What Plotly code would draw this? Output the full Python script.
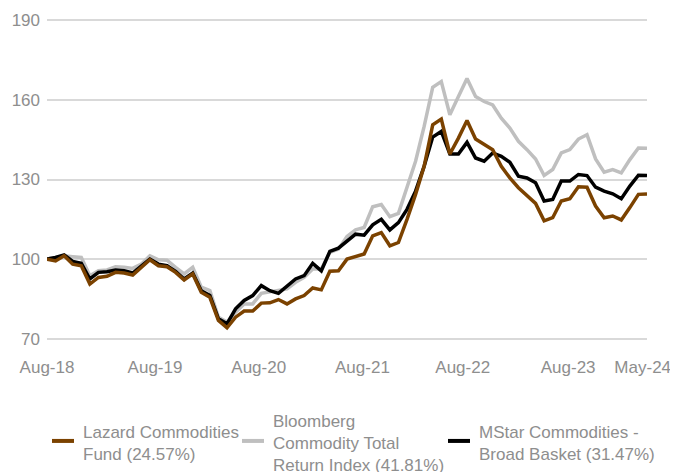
import plotly.graph_objects as go

# ---- data (growth of 100, monthly) ----
lazard = [100, 99.3, 101.25, 98.1, 97.5, 90.6, 93.1, 93.5, 95, 94.75,
          94, 96.9, 99.75, 97.5, 97.1, 95, 92.1, 94.4, 87.5, 85.6,
          76.9, 74.1, 78.1, 80.4, 80.4, 83.4, 83.5, 84.75, 83.1, 85,
          86.25, 89.1, 88.4, 95.4, 95.6, 100, 101, 101.9, 108.75, 110,
          105, 106.25, 115, 124.4, 135, 150.6, 152.75, 139.6, 145.6, 152.25,
          145.25, 143.1, 141.25, 135, 130.6, 126.9, 124, 121, 114.4, 115.6,
          121.9, 122.75, 127.25, 127.1, 120, 115.6, 116.25, 114.75, 119.4, 124.4,
          124.57]

bloomberg = [100, 100.5, 101.25, 100.9, 100.6, 93.75, 95.6, 95.9, 97.1, 96.9,
             96.5, 98.1, 101.25, 99.75, 99.6, 96.9, 94.4, 96.9, 89.4, 88.1,
             78.1, 76.25, 80, 83.1, 83.1, 87.1, 87.75, 88.1, 88.75, 91.25,
             93.1, 96.25, 96.25, 102.5, 103.75, 108.5, 111, 111.9, 119.75, 120.6,
             116, 117.25, 127.5, 136.9, 150, 164.75, 166.9, 154.4, 161.25, 168.1,
             161.25, 159.4, 158.1, 153.1, 149.4, 144.4, 141.25, 137.75, 131.5, 133.75,
             140, 141.25, 145.25, 146.9, 137.75, 132.75, 133.75, 132.5, 137.5, 141.9,
             141.81]

mstar = [100, 100.6, 101.6, 99.1, 98.4, 92.5, 95, 95.25, 95.9, 95.6,
         94.75, 97.2, 100, 98.1, 97.5, 95.4, 92.5, 94.75, 88.1, 86.25,
         77.5, 75.6, 81.25, 84.4, 86.25, 90, 88.1, 87.1, 90, 92.5,
         93.75, 98.4, 95.6, 102.9, 104.1, 106.9, 109.4, 109, 112.9, 115,
         111, 113.75, 118.75, 125.6, 135, 146, 148.1, 139.6, 139.6, 144,
         138.1, 136.9, 140, 138.75, 136.5, 131.25, 130.6, 128.75, 121.9, 122.5,
         129.4, 129.4, 131.9, 131.5, 127.1, 125.6, 124.6, 122.75, 127.5, 131.6,
         131.47]

x_idx = list(range(len(lazard)))

tick_labels = ["Aug-18", "Aug-19", "Aug-20", "Aug-21", "Aug-22", "Aug-23", "May-24"]
tick_pos = [0, 12.6, 24.7, 36.8, 48.5, 60.8, 69.5]
y_ticks = [70, 100, 130, 160, 190]

series_names = ["Lazard Commodities<br>Fund (24.57%)",
                "Bloomberg<br>Commodity Total<br>Return Index (41.81%)",
                "MStar Commodities -<br>Broad Basket (31.47%)"]

BROWN = "#7B4200"
GRAY = "#BFBFBF"
BLACK = "#000000"
TEXT = "#8E8E8E"
GRID = "#D9D9D9"
FONT = "Liberation Sans, Arial, sans-serif"

# ---- layout geometry (px; the page adds an 8px body margin) ----
W, H = 670, 464
ML, MR, MT, MB = 39, 31, 10.7, 132.4
PW, PH = W - ML - MR, H - MT - MB


def px_x(px):
    return (px - ML) / PW


def px_y(py):
    return 1 - (py - MT) / PH


fig = go.Figure()
fig.add_trace(go.Scatter(x=x_idx, y=bloomberg, mode="lines", name=series_names[1],
                         line=dict(color=GRAY, width=3.5)))
fig.add_trace(go.Scatter(x=x_idx, y=mstar, mode="lines", name=series_names[2],
                         line=dict(color=BLACK, width=3.5)))
fig.add_trace(go.Scatter(x=x_idx, y=lazard, mode="lines", name=series_names[0],
                         line=dict(color=BROWN, width=3.5)))

# ---- legend (swatch + text), drawn manually to avoid wrapping ----
legend_items = [(series_names[0], BROWN, 44), (series_names[1], GRAY, 234),
                (series_names[2], BLACK, 440)]
legend_cy = 432.5
shapes, annotations = [], []
for name, col, sx in legend_items:
    shapes.append(dict(type="line", xref="paper", yref="paper",
                       x0=px_x(sx), x1=px_x(sx + 22), y0=px_y(legend_cy), y1=px_y(legend_cy),
                       line=dict(color=col, width=4)))
    annotations.append(dict(xref="paper", yref="paper", x=px_x(sx + 29), y=px_y(legend_cy + 2.5),
                            xanchor="left", yanchor="middle", align="left",
                            text=name, showarrow=False,
                            font=dict(family=FONT, size=17, color=TEXT)))

fig.update_layout(
    width=W, height=H,
    margin=dict(l=ML, r=MR, t=MT, b=MB, autoexpand=False),
    paper_bgcolor="white", plot_bgcolor="white",
    font=dict(family=FONT, size=17, color=TEXT),
    showlegend=False,
    shapes=shapes, annotations=annotations,
)
fig.update_xaxes(range=[0, 70], tickmode="array", tickvals=tick_pos, ticktext=tick_labels,
                 showgrid=False, zeroline=False, showline=False, ticks="",
                 ticklabelstandoff=15, tickfont=dict(size=17, color=TEXT))
fig.update_yaxes(range=[69.5, 190.5], tickmode="array", tickvals=y_ticks,
                 showgrid=True, gridcolor=GRID, gridwidth=2, zeroline=False,
                 showline=False, ticks="", ticklabelstandoff=6,
                 tickfont=dict(size=17, color=TEXT))

fig.write_html("out.html")
